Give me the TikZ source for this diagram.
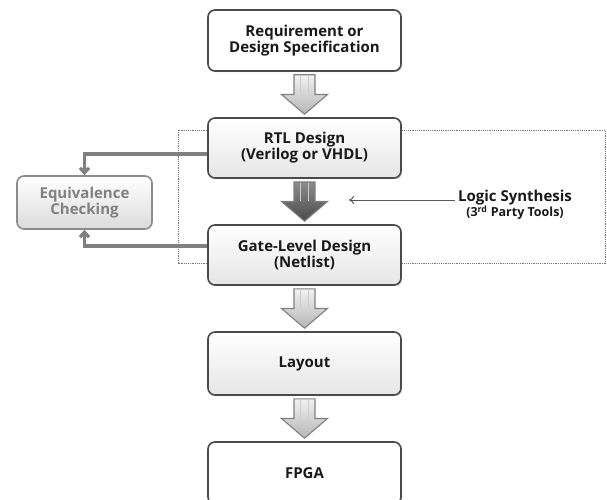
\documentclass[tikz,border=0pt]{standalone}
\usepackage{fontspec}
\setmainfont{Open Sans}
\usetikzlibrary{calc,arrows.meta,shadows}
\definecolor{bordc}{HTML}{4A4A4A}
\definecolor{lgA}{HTML}{F2F2F2}
\definecolor{lgB}{HTML}{B5B5B5}
\definecolor{dkA}{HTML}{8C8C8C}
\definecolor{dkB}{HTML}{4A4A4A}
\tikzset{
  box/.style={draw=bordc, line width=1.6pt, rounded corners=7pt, minimum width=193pt,
    align=center, font=\bfseries\fontsize{15}{16}\selectfont, text=black!90,
    drop shadow={shadow xshift=1.2pt, shadow yshift=-1.2pt, opacity=0.35}},
  whitebox/.style={box, fill=white},
  graybox/.style={box, top color=white, bottom color=black!10},
  eqbox/.style={draw=black!45, line width=1.6pt, rounded corners=7pt, minimum width=135pt,
    minimum height=53pt, align=center, top color=white, bottom color=black!14,
    font=\bfseries\fontsize{15}{16.5}\selectfont, text=black!50},
  eqline/.style={draw=black!50, line width=3.2pt, -{Straight Barb[length=5pt,width=9pt]}},
  dashbox/.style={draw=black!55, line width=0.6pt, dash pattern=on 1.2pt off 1pt},
  synarrow/.style={draw=black!65, line width=1pt, -{To[length=5pt,width=8pt]}},
  syntext/.style={align=center, font=\bfseries\fontsize{15}{16}\selectfont, text=black!90},
}
\newcommand\blockarr[4]{%
  \path let \p1=(#1.south), \p2=(#2.north),
        \n1={\y1-3pt}, \n2={\y2+3pt}, \n3={\y1-3pt-0.5*(\y1-\y2-6pt)} in
   [draw=black!50, line width=1.1pt, line join=miter, top color=#3, bottom color=#4]
   (\x1-10.5pt,\n1) -- (\x1+10.5pt,\n1) -- (\x1+10.5pt,\n3) -- (\x1+23pt,\n3)
   -- (\x1,\n2) -- (\x1-23pt,\n3) -- (\x1-10.5pt,\n3) -- cycle;
  \path let \p1=(#1.south), \p2=(#2.north),
        \n1={\y1-3pt}, \n3={\y1-3pt-0.5*(\y1-\y2-6pt)} in
   [draw=white!80!black, line width=0.8pt] (\x1-4pt,\n1-1pt) -- (\x1-4pt,\n3+1pt)
   (\x1+4pt,\n1-1pt) -- (\x1+4pt,\n3+1pt);
}
\begin{document}
\begin{tikzpicture}[x=1pt,y=-1pt]
\useasboundingbox (0,0) rectangle (607,500);
\draw[dashbox] (178,130) rectangle (605,263);
\node[whitebox, minimum height=61pt] (req) at (304.5,40.5) {Requirement or\\Design Specification};
\node[graybox, minimum height=60pt] (rtl) at (304.5,148) {RTL Design\\(Verilog or VHDL)};
\node[graybox, minimum height=60pt] (gate) at (304.5,255) {Gate-Level Design\\(Netlist)};
\node[graybox, minimum height=63pt] (lay) at (304.5,363.5) {Layout};
\node[whitebox, minimum height=62pt] (fpga) at (304.5,473) {FPGA};
\node[eqbox] (eq) at (84.5,202.5) {Equivalence\\Checking};
\node[syntext] (syn) at (515,205) {Logic Synthesis\\[-1pt]{\fontsize{12.5}{13}\selectfont(3\textsuperscript{rd} Party Tools)}};
\coordinate (rtlw) at ($(rtl.west)+(0,6)$);
\coordinate (gatew) at ($(gate.west)+(0,-9)$);
\draw[eqline] (rtlw) -| (eq.north);
\draw[eqline] (gatew) -| (eq.south);
\blockarr{req}{rtl}{lgA}{lgB}
\blockarr{rtl}{gate}{dkA}{dkB}
\blockarr{gate}{lay}{lgA}{lgB}
\blockarr{lay}{fpga}{lgA}{lgB}
\coordinate (synend) at (349,200);
\draw[synarrow] ($(syn.west)+(0,-5)$) -- (synend);
\end{tikzpicture}
\end{document}
